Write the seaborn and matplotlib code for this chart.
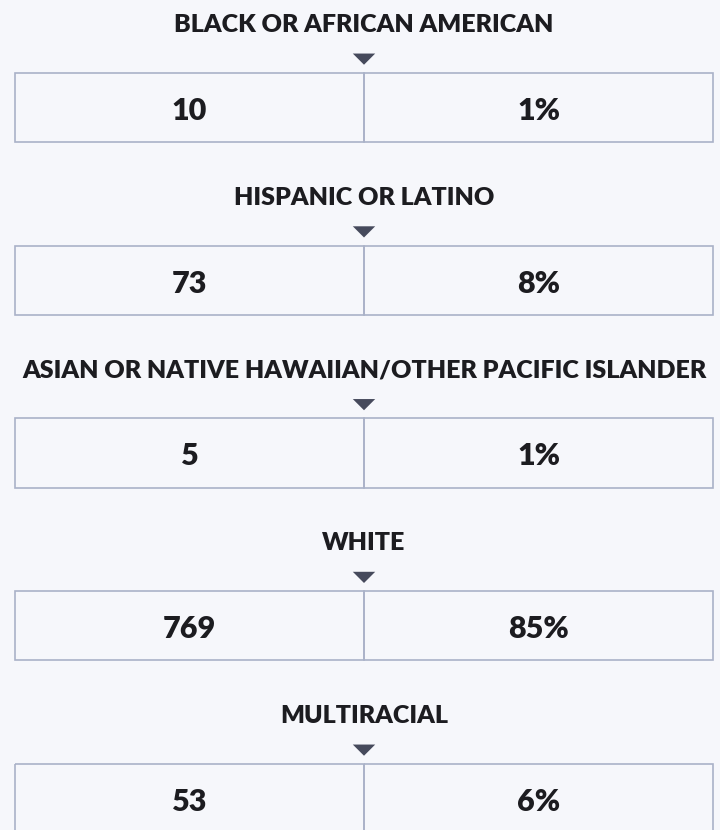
import numpy as np
import pandas as pd
import matplotlib.pyplot as plt
import seaborn as sns

# data
categories = ['BLACK OR AFRICAN AMERICAN', 'HISPANIC OR LATINO',
              'ASIAN OR NATIVE HAWAIIAN/OTHER PACIFIC ISLANDER',
              'WHITE', 'MULTIRACIAL']
counts = [10, 73, 5, 769, 53]
percents = [1, 8, 1, 85, 6]

sns.set_theme(style='white')
plt.rcParams['font.family'] = ['Lato', 'DejaVu Sans']

bg = '#f6f7fb'
edge = '#aab2c8'
ink = '#1c1c20'
tri_color = '#464a5c'

fig = plt.figure(figsize=(7.2, 8.3), dpi=100, facecolor=bg)
ax = fig.add_axes([0, 0, 1, 1])
ax.set_facecolor(bg)

rows = np.arange(len(categories))
box_top, box_h = 0.295, 0.40

# cells: left = count, right = share
for i in rows:
    ax.bar([0.5, 1.5], box_h, bottom=i + box_top, width=1.0,
           facecolor='none', edgecolor=edge, linewidth=1.2)
    ax.text(1.0, i + 0.018, categories[i], ha='center', va='center',
            fontsize=18, fontweight='heavy', color=ink)
    ax.text(0.5, i + box_top + box_h / 2 + 0.02, f'{counts[i]}', ha='center', va='center',
            fontsize=22, fontweight='heavy', color=ink)
    ax.text(1.5, i + box_top + box_h / 2 + 0.02, f'{percents[i]}%', ha='center', va='center',
            fontsize=22, fontweight='heavy', color=ink)

# down arrows
tri = pd.DataFrame({'x': np.ones(len(rows)), 'y': rows + 0.215})
sns.scatterplot(data=tri, x='x', y='y', ax=ax, marker=[(-1, 0.5), (1, 0.5), (0, -0.5)],
                s=260, color=tri_color, edgecolor='none', legend=False)

ax.set_xlim(-15 / 349, 2 + 7 / 349)
ax.set_ylim((830 - 22) / 172.75, -22 / 172.75)
ax.axis('off')

fig.savefig('out.png', dpi=100, facecolor=bg)
